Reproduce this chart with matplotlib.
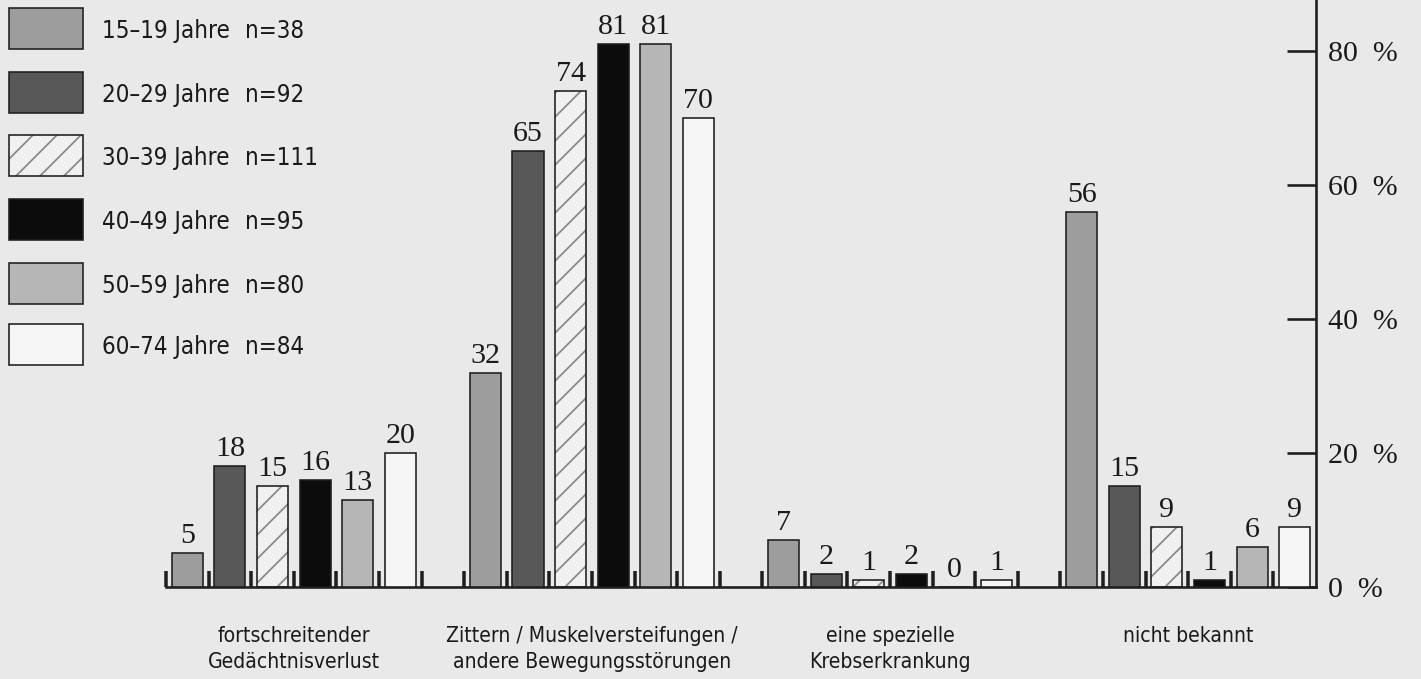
import matplotlib
matplotlib.use('Agg')
import matplotlib.pyplot as plt
from matplotlib.patches import Rectangle
import numpy as np

# ---------------- data ----------------
categories = ["fortschreitender\nGedächtnisverlust",
              "Zittern / Muskelversteifungen /\nandere Bewegungsstörungen",
              "eine spezielle\nKrebserkrankung",
              "nicht bekannt"]
age_groups = ["15–19 Jahre", "20–29 Jahre", "30–39 Jahre",
              "40–49 Jahre", "50–59 Jahre", "60–74 Jahre"]
sample_sizes = ["n=38", "n=92", "n=111", "n=95", "n=80", "n=84"]
v15_19 = [5, 32, 7, 56]
v20_29 = [18, 65, 2, 15]
v30_39 = [15, 74, 1, 9]
v40_49 = [16, 81, 2, 1]
v50_59 = [13, 81, 0, 6]
v60_74 = [20, 70, 1, 9]
y_ticks = [0, 20, 40, 60, 80]

series = [v15_19, v20_29, v30_39, v40_49, v50_59, v60_74]

# ---------------- style ----------------
BG = '#e9e9e9'
EDGE = '#1e1e1e'
fills = ['#9d9d9d', '#585858', '#f0f0f0', '#0c0c0c', '#b6b6b6', '#f6f6f6']
hatches = [None, None, '/', None, None, None]
SERIF = ['Liberation Serif', 'DejaVu Serif']
SANS_KW = dict(family=['DejaVu Sans'], fontstretch='condensed')
plt.rcParams['hatch.linewidth'] = 1.8

W, H, DPI = 1421, 679, 72
fig = plt.figure(figsize=(W / DPI, H / DPI), dpi=DPI, facecolor=BG)
ax = fig.add_axes([166 / W, 92 / H, 1150 / W, 587 / H])
ax.set_facecolor('none')

n_groups = len(categories)
group_step = len(series) + 1
bar_w = 0.73

for s, vals in enumerate(series):
    x = np.arange(n_groups) * group_step + s + 0.5
    if hatches[s]:
        ax.bar(x, vals, width=bar_w, color=fills[s], edgecolor='#8a8a8a',
               hatch=hatches[s], linewidth=0, zorder=2)
        cont = ax.bar(x, vals, width=bar_w, fill=False, edgecolor=EDGE,
                      linewidth=1.6, zorder=3)
    else:
        cont = ax.bar(x, vals, width=bar_w, color=fills[s], edgecolor=EDGE,
                      linewidth=1.6, zorder=3)
    ax.bar_label(cont, padding=4, fontsize=30, family=SERIF, color='#1a1a1a')

ax.set_xlim(0, n_groups * group_step - 1)
ax.set_ylim(0, 87.6)

for side in ['left', 'top']:
    ax.spines[side].set_visible(False)
for side in ['bottom', 'right']:
    ax.spines[side].set_linewidth(2.6)
    ax.spines[side].set_color(EDGE)

# y axis on right
ax.yaxis.tick_right()
ax.set_yticks(y_ticks)
ax.set_yticklabels([f"{v}  %" for v in y_ticks], family=SERIF)
ax.tick_params(axis='y', direction='in', length=29, width=2.6, pad=12,
               labelsize=30, colors=EDGE, labelcolor='#1a1a1a')

# x: small slot ticks
ax.set_xticks(np.arange(n_groups * group_step - 1))
ax.set_xticklabels([])
ax.tick_params(axis='x', which='major', direction='in', length=16, width=3.5,
               colors=EDGE)

# category labels
xform = ax.get_xaxis_transform()
for g, cat in enumerate(categories):
    ax.text(g * group_step + len(series) / 2, -39 / 587, cat, transform=xform,
            ha='center', va='top', multialignment='center', fontsize=21,
            linespacing=1.4, color='#1a1a1a', **SANS_KW)

# legend (manual)
tops = [8, 72, 135, 199, 263, 324]
for i, (lab, n) in enumerate(zip(age_groups, sample_sizes)):
    y0 = tops[i]
    kw = dict(transform=fig.transFigure, zorder=5)
    if hatches[i]:
        fig.add_artist(Rectangle((9 / W, 1 - (y0 + 41) / H), 74 / W, 41 / H,
                                 facecolor=fills[i], edgecolor='#8a8a8a',
                                 hatch=hatches[i], linewidth=0, **kw))
        fig.add_artist(Rectangle((9 / W, 1 - (y0 + 41) / H), 74 / W, 41 / H,
                                 fill=False, edgecolor=EDGE, linewidth=1.6, **kw))
    else:
        fig.add_artist(Rectangle((9 / W, 1 - (y0 + 41) / H), 74 / W, 41 / H,
                                 facecolor=fills[i], edgecolor=EDGE,
                                 linewidth=1.6, **kw))
    yc = 1 - (y0 + 23) / H
    fig.text(102 / W, yc, lab, ha='left', va='center', fontsize=24,
             color='#1a1a1a', **SANS_KW)
    fig.text(245 / W, yc, n, ha='left', va='center', fontsize=24,
             color='#1a1a1a', **SANS_KW)

fig.savefig('out.png', dpi=DPI, facecolor=BG)
